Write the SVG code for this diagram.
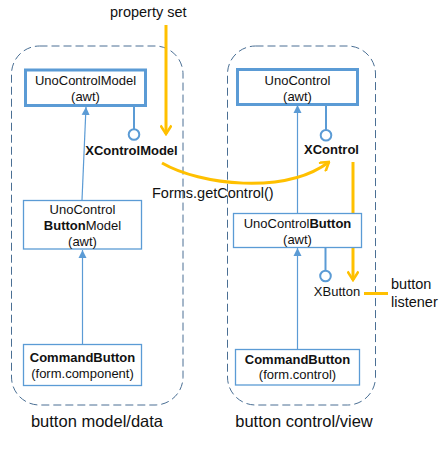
<svg xmlns="http://www.w3.org/2000/svg" width="445" height="450" viewBox="0 0 445 450">
<style>
text{font-family:"Liberation Sans",Arial,sans-serif;fill:#111;}
.t{font-size:13px;text-anchor:middle;}
.b{font-weight:bold;}
.lbl{font-size:14.5px;}
.big{font-size:16.5px;text-anchor:middle;}
.cont{fill:none;stroke:#4a6f94;stroke-width:1;stroke-dasharray:8 4;}
.thick{fill:#fff;stroke:#5b9bd5;stroke-width:3;}
.thin{fill:#fff;stroke:#5b9bd5;stroke-width:1.3;}
.inh{stroke:#5b9bd5;stroke-width:1.2;fill:none;}
.lol{stroke:#5b9bd5;stroke-width:2;fill:#fff;}
.or{stroke:#ffc000;stroke-width:3;fill:none;}
</style>
<defs>
<marker id="tri" viewBox="0 0 10 10" refX="10" refY="5" markerWidth="8" markerHeight="9" markerUnits="userSpaceOnUse" orient="auto">
<path d="M0,0 L10,5 L0,10 z" fill="#5b9bd5"/>
</marker>
<marker id="chev" viewBox="0 0 12 12" refX="10.5" refY="6" markerWidth="12" markerHeight="12" markerUnits="userSpaceOnUse" orient="auto">
<path d="M2,0.5 L10.5,6 L2,11.5" fill="none" stroke="#ffc000" stroke-width="2.6"/>
</marker>
</defs>

<g id="container-model">
<rect class="cont" x="11.5" y="46" width="171.5" height="359" rx="28" ry="28"/>
<text class="big" x="97" y="427">button model/data</text>
</g>
<g id="container-control">
<rect class="cont" x="227.5" y="46" width="148" height="359" rx="28" ry="28"/>
<text class="big" x="304" y="427">button control/view</text>
</g>

<g id="connectors">
<line class="inh" x1="82" y1="200" x2="86" y2="107" marker-end="url(#tri)"/>
<line class="inh" x1="82.5" y1="344" x2="82.5" y2="250" marker-end="url(#tri)"/>
<line class="inh" x1="297.5" y1="213" x2="297.5" y2="105" marker-end="url(#tri)"/>
<line class="inh" x1="297.5" y1="349" x2="297.5" y2="248" marker-end="url(#tri)"/>
<line class="lol" x1="134" y1="106" x2="134" y2="129"/>
<circle class="lol" cx="134" cy="134.5" r="5.3"/>
<line class="lol" x1="326" y1="105" x2="326" y2="130"/>
<circle class="lol" cx="326" cy="135.3" r="5.3"/>
<line class="lol" x1="325.5" y1="245" x2="325.5" y2="270.5"/>
<circle class="lol" cx="325.5" cy="276" r="5.3"/>
<line class="or" x1="166" y1="25" x2="166" y2="134" marker-end="url(#chev)"/>
<path class="or" d="M162,163 C200,185 285,195 329,162" marker-end="url(#chev)"/>
<line class="or" x1="353" y1="162" x2="353" y2="280" marker-end="url(#chev)"/>
<line class="or" x1="364" y1="293.5" x2="388" y2="293.5"/>
</g>

<g id="property-set"><text class="lbl" x="110" y="17">property set</text></g>
<g id="forms-getcontrol"><text class="lbl" x="152" y="198">Forms.getControl()</text></g>
<g id="xcontrolmodel"><text class="t b" x="131.5" y="155">XControlModel</text></g>
<g id="xcontrol"><text class="t b" x="331.5" y="154">XControl</text></g>
<g id="xbutton"><text class="t" x="337" y="296">XButton</text></g>
<g id="button-listener"><text class="lbl" x="391" y="289">button</text><text class="lbl" x="391" y="307">listener</text></g>

<g id="unocontrolmodel">
<rect class="thick" x="25.5" y="70" width="120" height="35.5"/>
<text class="t" x="85.5" y="84.5">UnoControlModel</text>
<text class="t" x="85.5" y="100.5">(awt)</text>
</g>
<g id="unocontrolbuttonmodel">
<rect class="thin" x="23.5" y="200.5" width="118" height="48.5"/>
<text class="t" x="82.5" y="213.5">UnoControl</text>
<text class="t" x="82.5" y="229.5"><tspan class="b">Button</tspan>Model</text>
<text class="t" x="82.5" y="245.5">(awt)</text>
</g>
<g id="commandbutton-model">
<rect class="thin" x="23.5" y="344.5" width="118" height="41"/>
<text class="t b" x="82.5" y="361.5">CommandButton</text>
<text class="t" x="82.5" y="377.5">(form.component)</text>
</g>
<g id="unocontrol">
<rect class="thick" x="237.5" y="69.5" width="120" height="35"/>
<text class="t" x="297.5" y="84.5">UnoControl</text>
<text class="t" x="297.5" y="100.5">(awt)</text>
</g>
<g id="unocontrolbutton">
<rect class="thin" x="233.5" y="213.5" width="128" height="34"/>
<text class="t" x="297.5" y="227.5">UnoControl<tspan class="b">Button</tspan></text>
<text class="t" x="297.5" y="243.5">(awt)</text>
</g>
<g id="commandbutton-control">
<rect class="thin" x="235.5" y="349.5" width="124" height="35.5"/>
<text class="t b" x="297.5" y="363.5">CommandButton</text>
<text class="t" x="297.5" y="379">(form.control)</text>
</g>
</svg>
